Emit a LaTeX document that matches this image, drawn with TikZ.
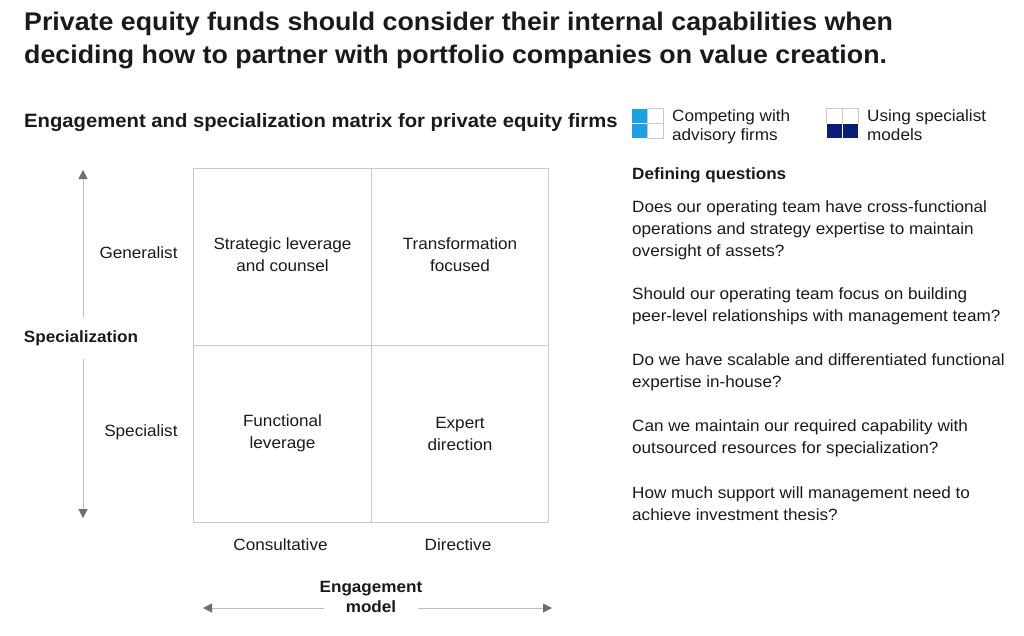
\documentclass[tikz,border=0pt]{standalone}
\usepackage{fontspec}
\setmainfont{Liberation Sans}[FakeStretch=1.05]
\usetikzlibrary{arrows.meta,positioning}

\definecolor{inkblack}{HTML}{1A1A1A}
\definecolor{gridgray}{HTML}{C8C8C8}
\definecolor{axisgray}{HTML}{BDBDBD}
\definecolor{tipgray}{HTML}{6E6E6E}
\definecolor{cyanblue}{HTML}{1BA1E8}
\definecolor{navyblue}{HTML}{0A1E78}

\begin{document}
\begin{tikzpicture}[x=1pt, y=-1pt,
	every node/.style = {text=inkblack, inner sep=0pt},
	titletext/.style  = {font=\fontsize{25.5}{33}\selectfont\bfseries, anchor=base west, align=left},
	heading/.style    = {font=\fontsize{19.3}{22}\selectfont\bfseries, anchor=base west},
	body/.style       = {font=\fontsize{16.3}{22}\selectfont, align=center},
	cell/.style       = {draw=gridgray, line width=0.9pt, outer sep=0pt, minimum width=177.5pt, minimum height=177pt},
	question/.style   = {font=\fontsize{16.3}{22}\selectfont, anchor=base west, align=left},
	legendtext/.style = {font=\fontsize{16.3}{19}\selectfont, anchor=base west, align=left},
	axisline/.style   = {draw=axisgray, line width=1pt, -{Triangle[color=tipgray, length=9pt, width=9pt]}},
	]
	
	\useasboundingbox (0,0) rectangle (1024,635);
	
	% title and subtitle
	\node[titletext] (title) at (24,63.5) {Private equity funds should consider their internal capabilities when\\deciding how to partner with portfolio companies on value creation.};
	\node[heading] (sub) at (24,127) {Engagement and specialization matrix for private equity firms};
	
	% legend
	\foreach \dy in {0,15} {
		\filldraw[fill=cyanblue, draw=white, line width=0.5pt] (631,108+\dy) rectangle ++(16,15);
		\draw[gridgray, line width=0.8pt] (647,108+\dy) rectangle ++(16,15);
	}
	\foreach \dx in {0,16} {
		\draw[gridgray, line width=0.8pt] (826+\dx,108) rectangle ++(16,15);
		\filldraw[fill=navyblue, draw=white, line width=0.5pt] (826+\dx,123) rectangle ++(16,15);
	}
	\node[legendtext] (lg1) at (672,140) {Competing with\\advisory firms};
	\node[legendtext] (lg2) at (867,140) {Using specialist\\models};
	
	% matrix
	\node[cell] (c11) at (282.5,256.5) {};
	\node[cell, right=0pt of c11] (c12) {};
	\node[cell, below=0pt of c11] (c21) {};
	\node[cell, right=0pt of c21] (c22) {};
	
	\begin{scope}[every node/.style={body, text=inkblack, inner sep=0pt}]
	\node[yshift=2pt] (t11) at (c11) {Strategic leverage\\and counsel};
	\node[yshift=2pt] (t12) at (c12) {Transformation\\focused};
	\node (t21) at (c21) {Functional\\leverage};
	\node (t22) at (c22) {Expert\\direction};
	\end{scope}
	
	\node[body, left=16pt of c11, yshift=4pt] (gen) {Generalist};
	\node[body, left=16pt of c21, yshift=1pt] (spe) {Specialist};
	\node[body, below=16pt of c21, xshift=-2pt] (con) {Consultative};
	\node[body, below=16pt of c22, xshift=-2pt] (dir) {Directive};
	
	% axes
	\node[body, font=\fontsize{16.3}{20}\selectfont\bfseries, inner ysep=13pt] (spec) at (81,338) {Specialization};
	\coordinate (vtop) at (83,170);
	\coordinate (vbot) at (83,518);
	\draw[axisline] (vtop |- spec.north) -- (vtop);
	\draw[axisline] (vbot |- spec.south) -- (vbot);
	
	\node[body, font=\fontsize{16.3}{20.5}\selectfont\bfseries] (eng) at (371,597) {Engagement\\model};
	\coordinate (hl) at (203,608);
	\coordinate (hr) at (552,608);
	\draw[axisline] ([xshift=5pt]eng.west |- hl) -- (hl);
	\draw[axisline] ([xshift=-5pt]eng.east |- hr) -- (hr);
	
	% defining questions
	\node[heading, font=\fontsize{16.3}{22}\selectfont\bfseries] (dq) at (632,179) {Defining questions};
	\node[question] (q1) at (632,256) {Does our operating team have cross-functional\\operations and strategy expertise to maintain\\oversight of assets?};
	\node[question] (q2) at (632,321) {Should our operating team focus on building\\peer-level relationships with management team?};
	\node[question] (q3) at (632,387) {Do we have scalable and differentiated functional\\expertise in-house?};
	\node[question] (q4) at (632,453) {Can we maintain our required capability with\\outsourced resources for specialization?};
	\node[question] (q5) at (632,520) {How much support will management need to\\achieve investment thesis?};
	
\end{tikzpicture}
\end{document}
